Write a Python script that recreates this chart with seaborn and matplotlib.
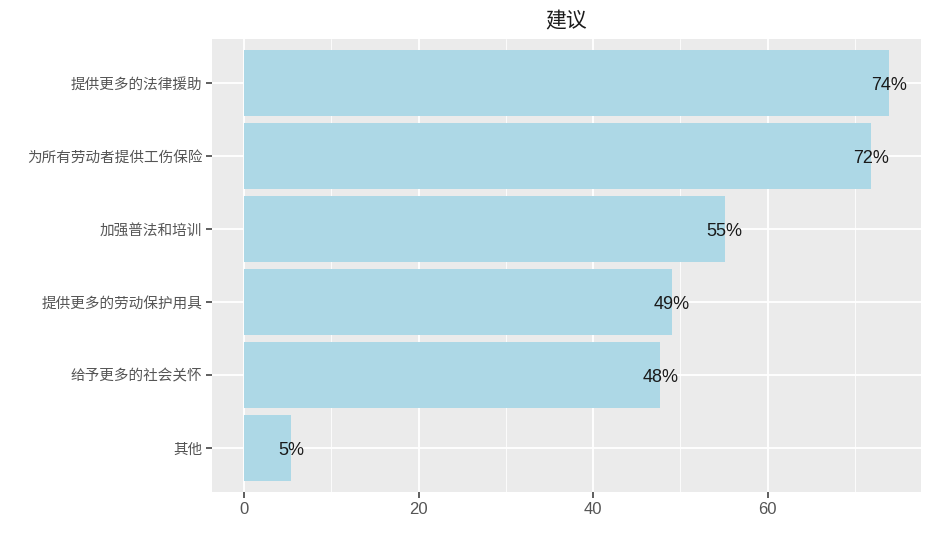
import numpy as np
import pandas as pd
import matplotlib
matplotlib.use("Agg")
import matplotlib.pyplot as plt
import seaborn as sns

categories = ['提供更多的法律援助', '为所有劳动者提供工伤保险', '加强普法和培训',
              '提供更多的劳动保护用具', '给予更多的社会关怀', '其他']
values     = [73.9, 71.9, 55.1, 49.0, 47.7, 5.4]
labels     = ['74%', '72%', '55%', '49%', '48%', '5%']

df = pd.DataFrame({'建议': categories, 'pct': values, 'label': labels})

sns.set_theme(style='darkgrid', rc={'axes.facecolor': '#EBEBEB',
                                     'grid.color': 'white'})
plt.rcParams['font.family'] = ['Noto Sans CJK SC', 'DejaVu Sans']

fig = plt.figure(figsize=(9.31, 5.48), dpi=100)
ax = fig.add_axes([212/931, 1 - 492/548, (921-212)/931, (492-39)/548])

sns.barplot(data=df, x='pct', y='建议', color='#ADD8E6', saturation=1,
            width=0.9, ax=ax, zorder=3)
for p in ax.patches:
    p.set_edgecolor('none')

# rótulos de porcentagem no fim de cada barra
for i, row in df.iterrows():
    ax.text(row['pct'], i + 0.03, row['label'], ha='center', va='center',
            fontsize=13, color='#1a1a1a', family=['Liberation Sans'], zorder=4)

ax.set_xlim(-3.7, 77.6)
ax.set_ylim(len(categories) - 0.4, -0.6)
ax.set_xticks([0, 20, 40, 60])
ax.set_xticks([10, 30, 50, 70], minor=True)
ax.grid(which='major', color='white', linewidth=1.3, zorder=0)
ax.grid(which='minor', axis='x', color='white', linewidth=0.6, zorder=0)
ax.set_axisbelow(True)
for s in ax.spines.values():
    s.set_visible(False)
ax.tick_params(axis='both', which='major', length=4, width=1.1, color='#333333',
               direction='out', pad=3, labelcolor='#555555', labelsize=10.5,
               bottom=True, left=True)
ax.tick_params(axis='x', labelsize=12)
ax.tick_params(which='minor', length=0)
for t in ax.get_xticklabels():
    t.set_family(['Liberation Sans'])
ax.set_xlabel('')
ax.set_ylabel('')
ax.set_title('建议', fontsize=15, color='#1a1a1a', pad=8)

fig.savefig('out.png', dpi=100)
